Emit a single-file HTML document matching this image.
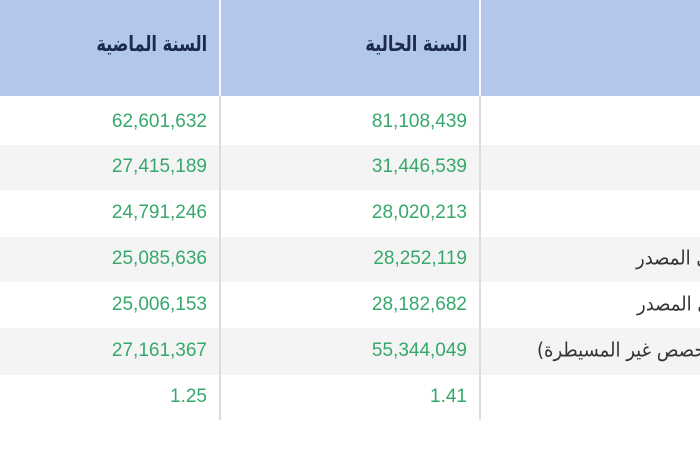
<!DOCTYPE html>
<html><head><meta charset="utf-8">
<style>
html,body{margin:0;padding:0;}
body{width:700px;height:450px;overflow:hidden;position:relative;background:#fff;font-family:"DejaVu Sans","Liberation Sans",sans-serif;}
.hdr{position:absolute;left:0;top:0;width:700px;height:96px;background:#b3c6ec;}
.hsep{position:absolute;top:0;height:96px;width:2px;background:#f4f7fd;}
.row{position:absolute;left:0;width:700px;}
.g{background:#f4f4f4;}
.sep{position:absolute;top:96px;height:324px;width:2px;background:#dcdcdc;}
.num{position:absolute;font-family:"Liberation Sans",sans-serif;font-size:19px;color:#36a86b;text-align:right;line-height:20px;white-space:nowrap;}
.ht{position:absolute;font-size:18px;font-weight:bold;color:#1c2a4c;direction:rtl;white-space:nowrap;line-height:22px;transform:scale(0.9,1.18);transform-origin:right center;}
.clip{position:absolute;left:482px;top:96px;width:218px;height:324px;overflow:hidden;}
.lbl{position:absolute;font-size:18px;color:#333;direction:rtl;white-space:nowrap;line-height:22px;transform:scaleY(1.1);}
</style></head><body>
<div class="hdr"></div>
<div class="hsep" style="left:219px"></div>
<div class="hsep" style="left:479px"></div>

<div class="row" style="top:96px;height:49px"></div>
<div class="row g" style="top:145px;height:45px"></div>
<div class="row" style="top:190px;height:47px"></div>
<div class="row g" style="top:237px;height:45px"></div>
<div class="row" style="top:282px;height:46px"></div>
<div class="row g" style="top:328px;height:47px"></div>
<div class="row" style="top:375px;height:45px"></div>

<div class="sep" style="left:219px"></div>
<div class="sep" style="left:479px"></div>

<div class="ht" style="right:493px;top:34px">السنة الماضية</div>
<div class="ht" style="right:233px;top:34px">السنة الحالية</div>

<div class="num" style="right:493px;top:112px">62,601,632</div>
<div class="num" style="right:233px;top:112px">81,108,439</div>
<div class="num" style="right:493px;top:157px">27,415,189</div>
<div class="num" style="right:233px;top:157px">31,446,539</div>
<div class="num" style="right:493px;top:203px">24,791,246</div>
<div class="num" style="right:233px;top:203px">28,020,213</div>
<div class="num" style="right:493px;top:249px">25,085,636</div>
<div class="num" style="right:233px;top:249px">28,252,119</div>
<div class="num" style="right:493px;top:295px">25,006,153</div>
<div class="num" style="right:233px;top:295px">28,182,682</div>
<div class="num" style="right:493px;top:341px">27,161,367</div>
<div class="num" style="right:233px;top:341px">55,344,049</div>
<div class="num" style="right:493px;top:387px">1.25</div>
<div class="num" style="right:233px;top:387px">1.41</div>

<div class="clip">
<div class="lbl" style="left:154px;top:152px">صافي الربح العائد لمساهمي المصدر</div>
<div class="lbl" style="left:155px;top:198px">صافي الربح العائد لمساهمي المصدر</div>
<div class="lbl" style="left:55px;top:244px">صافي الربح (شامل حصص غير المسيطرة)</div>
</div>
</body></html>
